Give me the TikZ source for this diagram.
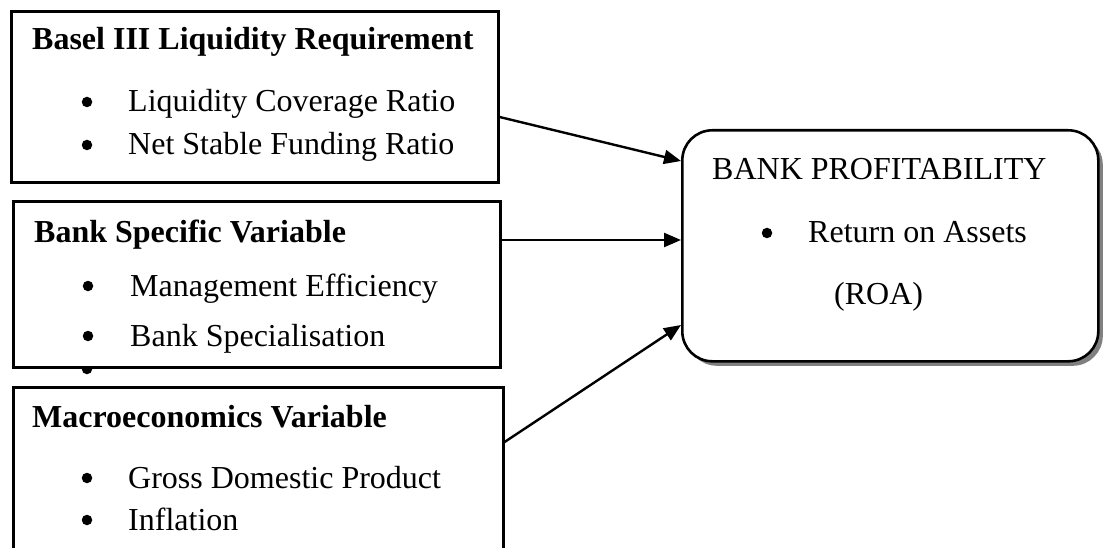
\documentclass[tikz,border=0pt]{standalone}
\usepackage{fontspec}
\setmainfont{Liberation Serif}
\usetikzlibrary{arrows.meta,shadows}
\begin{document}
\begin{tikzpicture}[x=1pt,y=-1pt,
  box/.style={draw, line width=2.6pt, fill=white, inner sep=0pt, anchor=north west},
  ttl/.style={anchor=base west, inner sep=0pt, font=\fontsize{32}{38}\selectfont\bfseries},
  itm/.style={anchor=base west, inner sep=0pt, font=\fontsize{32}{38}\selectfont},
  rtxt/.style={anchor=base west, inner sep=0pt, font=\fontsize{32}{38}\selectfont},
  dot/.style={circle, fill=black, inner sep=0pt, minimum size=10.5pt},
  arr/.style={-{Triangle[length=17pt,width=14pt]}, line width=2.4pt},
  rbox/.style={draw, line width=2.6pt, fill=white, rounded corners=30pt, inner sep=0pt, anchor=north west,
    drop shadow={shadow xshift=4.5pt, shadow yshift=-4.5pt, fill=black!50, opacity=1}}]
\useasboundingbox (0,0) rectangle (1103,548);
\clip (0,0) rectangle (1103,548);
\fill[white] (0,0) rectangle (1103,548);

% stray bullet partly hidden by box 2
\node[dot] (stray) at (87,369) {};

% box 1
\node[box, minimum width=487pt, minimum height=171pt] (b1) at (10,10) {};
\node[ttl] (t1) at (32,50) {Basel III Liquidity Requirement};
\node[dot] (d11) at (87,102) {};
\node[itm] (i11) at (128,112) {Liquidity Coverage Ratio};
\node[dot] (d12) at (87,145) {};
\node[itm] (i12) at (128,155) {Net Stable Funding Ratio};

% box 2
\node[box, minimum width=487pt, minimum height=166pt] (b2) at (12,200) {};
\node[ttl] (t2) at (34,243) {Bank Specific Variable};
\node[dot] (d21) at (88,286) {};
\node[itm] (i21) at (130,296) {Management Efficiency};
\node[dot] (d22) at (88,336) {};
\node[itm] (i22) at (130,346) {Bank Specialisation};

% box 3
\node[box, minimum width=490pt, minimum height=220pt] (b3) at (12,386) {};
\node[ttl] (t3) at (32,427) {Macroeconomics Variable};
\node[dot] (d31) at (87,478) {};
\node[itm] (i31) at (128,488) {Gross Domestic Product};
\node[dot] (d32) at (87,520) {};
\node[itm] (i32) at (128,530) {Inflation};

% right box
\node[rbox, minimum width=416pt, minimum height=231pt] (rb) at (681,129) {};
\node[rtxt] (r1) at (712,180) {BANK PROFITABILITY};
\node[dot] (rd) at (767,233) {};
\node[rtxt] (r2) at (808,243) {Return on Assets};
\node[rtxt] (r3) at (834,304) {(ROA)};

% connectors
\coordinate (s1) at (b1.east |- 0,117);
\coordinate (e1) at (rb.west |- 0,161);
\coordinate (s2) at (b2.east |- 0,240);
\coordinate (e2) at (rb.west |- 0,240);
\coordinate (s3) at (b3.east |- 0,442);
\coordinate (e3) at (rb.west |- 0,325);
\draw[arr] (s1) -- (e1);
\draw[arr] (s2) -- (e2);
\draw[arr] (s3) -- (e3);
\end{tikzpicture}
\end{document}
